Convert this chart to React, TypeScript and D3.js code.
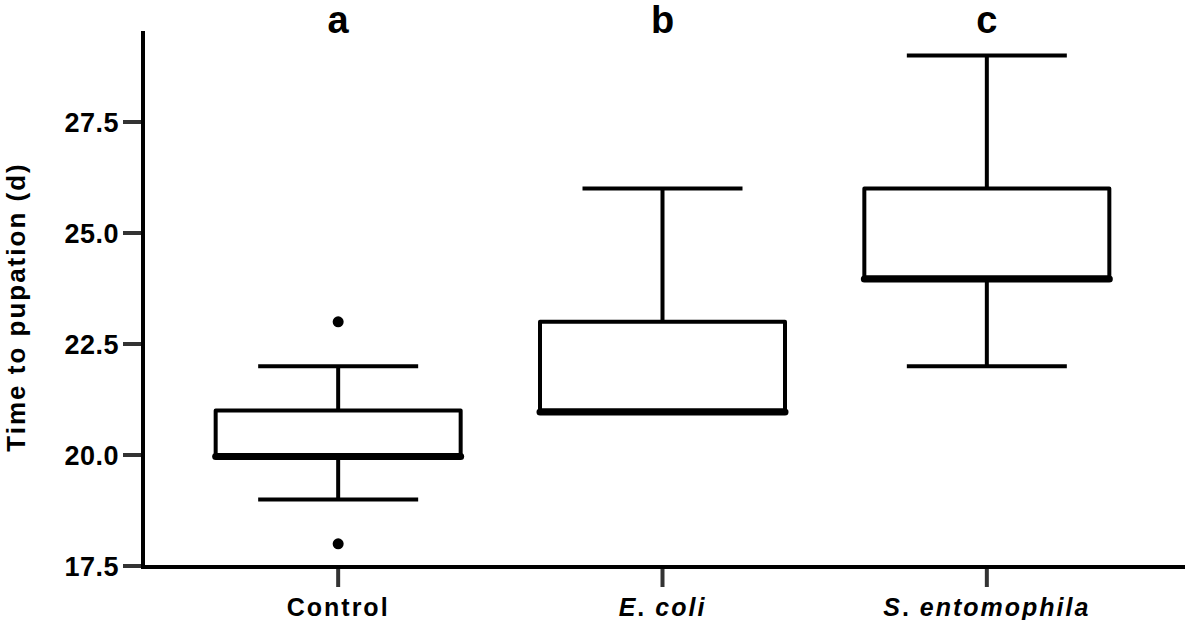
import { useEffect, useRef } from 'react';
import * as d3 from 'd3';

// groups and their box statistics
const groups = ['Control', 'E. coli', 'S. entomophila'];
const letters = ['a', 'b', 'c'];
const q1 = [20, 21, 24];
const medians = [20, 21, 24];
const q3 = [21, 23, 26];
const whiskerLow = [19, 21, 22];
const whiskerHigh = [22, 26, 29];
const outliers = [[18, 23], [], []];
const yTicks = [17.5, 20.0, 22.5, 25.0, 27.5];

const W = 1185;
const H = 620;

export default function App() {
  const svgRef = useRef<SVGSVGElement>(null);

  useEffect(() => {
    document.body.style.margin = '0';
    if (!svgRef.current) return;
    const svg = d3.select(svgRef.current);
    svg.selectAll('*').remove();

    const font = 'Arial, "Liberation Sans", sans-serif';
    const axisX = 143;
    const axisY = 567;

    const y = d3.scaleLinear().domain([17.5, 27.5]).range([566, 122]);
    const x = d3.scaleBand().domain(groups).range([176, 1149]).padding(0);
    const cx = (g: string) => (x(g) || 0) + x.bandwidth() / 2;
    const boxW = 245;
    const capW = 160;

    // axes lines
    svg.append('line')
      .attr('x1', axisX).attr('x2', axisX)
      .attr('y1', 31).attr('y2', axisY + 2)
      .attr('stroke', '#000').attr('stroke-width', 4);
    svg.append('line')
      .attr('x1', axisX - 2).attr('x2', 1185)
      .attr('y1', axisY).attr('y2', axisY)
      .attr('stroke', '#000').attr('stroke-width', 4);

    // y ticks
    const yt = svg.append('g');
    yt.selectAll('line').data(yTicks).join('line')
      .attr('x1', 123).attr('x2', axisX - 2)
      .attr('y1', d => y(d)).attr('y2', d => y(d))
      .attr('stroke', '#333').attr('stroke-width', 4);
    yt.selectAll('text').data(yTicks).join('text')
      .attr('x', 119).attr('y', d => y(d))
      .attr('dy', '0.36em')
      .attr('text-anchor', 'end')
      .style('font-family', font).style('font-weight', 'bold').style('font-size', '27px')
      .style('letter-spacing', '0.5px')
      .text(d => d.toFixed(1));

    // x ticks
    const xt = svg.append('g');
    xt.selectAll('line').data(groups).join('line')
      .attr('x1', d => cx(d)).attr('x2', d => cx(d))
      .attr('y1', axisY + 2).attr('y2', 587)
      .attr('stroke', '#333').attr('stroke-width', 4);
    const labels = xt.selectAll('text').data(groups).join('text')
      .attr('x', d => cx(d)).attr('y', 616)
      .attr('text-anchor', 'middle')
      .style('font-family', font).style('font-weight', 'bold').style('font-size', '25px')
      .style('letter-spacing', '2px');
    labels.each(function (d) {
      const t = d3.select(this);
      if (d === 'Control') {
        t.text(d);
      } else {
        const [a, b] = d.split('. ');
        t.style('font-style', 'italic');
        t.append('tspan').text(a);
        t.append('tspan').style('font-style', 'normal').text('.');
        t.append('tspan').text(' ' + b);
      }
    });

    // y title
    svg.append('text')
      .attr('transform', `translate(25,307) rotate(-90)`)
      .attr('text-anchor', 'middle')
      .style('font-family', font).style('font-weight', 'bold').style('font-size', '26px')
      .style('letter-spacing', '2px')
      .text('Time to pupation (d)');

    // boxes
    groups.forEach((g, i) => {
      const c = cx(g);
      const gg = svg.append('g')
        .attr('stroke', '#000').attr('fill', 'none')
        .attr('stroke-linejoin', 'round');
      // whiskers
      gg.append('line')
        .attr('x1', c).attr('x2', c)
        .attr('y1', y(q3[i])).attr('y2', y(whiskerHigh[i]))
        .attr('stroke-width', 4);
      gg.append('line')
        .attr('x1', c - capW / 2).attr('x2', c + capW / 2)
        .attr('y1', y(whiskerHigh[i])).attr('y2', y(whiskerHigh[i]))
        .attr('stroke-width', 4);
      if (whiskerLow[i] < q1[i]) {
        gg.append('line')
          .attr('x1', c).attr('x2', c)
          .attr('y1', y(q1[i])).attr('y2', y(whiskerLow[i]))
          .attr('stroke-width', 4);
        gg.append('line')
          .attr('x1', c - capW / 2).attr('x2', c + capW / 2)
          .attr('y1', y(whiskerLow[i])).attr('y2', y(whiskerLow[i]))
          .attr('stroke-width', 4);
      }
      gg.append('rect')
        .attr('x', c - boxW / 2).attr('width', boxW)
        .attr('y', y(q3[i])).attr('height', y(q1[i]) - y(q3[i]))
        .attr('fill', '#fff')
        .attr('stroke-width', 4);
      gg.append('line')
        .attr('x1', c - boxW / 2).attr('x2', c + boxW / 2)
        .attr('y1', y(medians[i]) + 1.5).attr('y2', y(medians[i]) + 1.5)
        .attr('stroke-width', 7)
        .attr('stroke-linecap', 'round');
      gg.selectAll('circle').data(outliers[i]).join('circle')
        .attr('cx', c).attr('cy', d => y(d)).attr('r', 5.5)
        .attr('fill', '#000').attr('stroke', 'none');
      svg.append('text')
        .attr('x', c).attr('y', 33)
        .attr('text-anchor', 'middle')
        .style('font-family', font).style('font-weight', 'bold').style('font-size', '38px')
        .text(letters[i]);
    });
  }, []);

  return <svg ref={svgRef} width={W} height={H} style={{ display: 'block', background: '#fff' }} />;
}
